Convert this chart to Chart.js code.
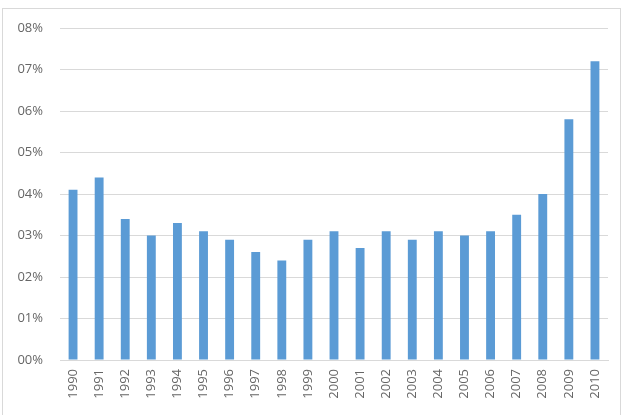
<!DOCTYPE html>
<html>
<head>
<meta charset="utf-8">
<script src="https://cdn.jsdelivr.net/npm/chart.js@4"></script>
<style>
    html, body { margin: 0; padding: 0; background: #fff; }
    body { position: relative; width: 624px; height: 415px; overflow: hidden; }
    #chart { position: absolute; left: 0; top: 0; }
    .frame { position: absolute; left: 2px; top: 8px; width: 617px; height: 420px; border: 1px solid #d9d9d9; pointer-events: none; }
</style>
</head>
<body>
<canvas id="chart" width="624" height="415"></canvas>
<div class="frame"></div>
<script>
// Datos (porcentaje)
const years = ['1990', '1991', '1992', '1993', '1994', '1995', '1996', '1997', '1998', '1999', '2000',
    '2001', '2002', '2003', '2004', '2005', '2006', '2007', '2008', '2009', '2010'];
const rates = [4.1, 4.4, 3.4, 3.0, 3.3, 3.1, 2.9, 2.6, 2.4, 2.9, 3.1,
    2.7, 3.1, 2.9, 3.1, 3.0, 3.1, 3.5, 4.0, 5.8, 7.2];
const yTicks = [0, 1, 2, 3, 4, 5, 6, 7, 8];

Chart.defaults.color = '#666666';
Chart.defaults.font.family = "'Open Sans', 'Liberation Sans', sans-serif";
Chart.defaults.font.size = 13;

const ctx = document.getElementById('chart').getContext('2d');

new Chart(ctx, {
    type: 'bar',
    data: {
        labels: years,
        datasets: [{
            data: rates,
            backgroundColor: '#5B9BD5',
            borderWidth: 0,
            barPercentage: 0.34,
            categoryPercentage: 1
        }]
    },
    options: {
        responsive: false,
        animation: false,
        layout: { padding: { top: 28, right: 16, bottom: 0, left: 0 } },
        plugins: {
            legend: { display: false },
            tooltip: { enabled: false }
        },
        scales: {
            y: {
                min: 0,
                max: 8,
                afterBuildTicks: (scale) => { scale.ticks = yTicks.map(v => ({ value: v })); },
                afterFit: (scale) => { scale.width = 60; },
                ticks: {
                    padding: 17,
                    callback: (v) => '0' + v + '%'
                },
                grid: { color: '#d9d9d9', drawTicks: false },
                border: { display: false }
            },
            x: {
                afterFit: (scale) => { scale.height = 55; },
                ticks: {
                    padding: 9,
                    minRotation: 90,
                    maxRotation: 90,
                    autoSkip: false
                },
                grid: { display: false, drawTicks: false },
                border: { display: true, color: '#d9d9d9' }
            }
        }
    }
});
</script>
</body>
</html>
